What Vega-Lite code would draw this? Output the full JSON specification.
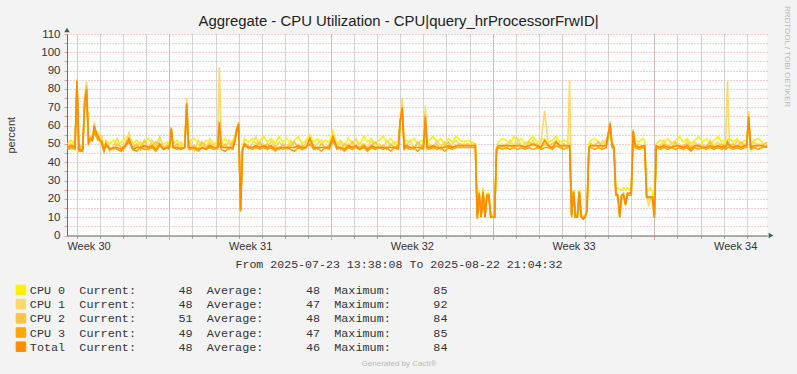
{
  "$schema": "https://vega.github.io/schema/vega-lite/v6.json",
  "width": 700,
  "height": 201.5,
  "autosize": {"type": "none"},
  "padding": {"left": 67, "top": 34, "right": 30, "bottom": 138.5},
  "background": "#F3F3F3",
  "config": {
    "view": {"fill": "#FFFFFF", "stroke": null},
    "font": "Liberation Sans",
    "axis": {"labelFont": "Liberation Sans", "titleFont": "Liberation Sans", "titleFontWeight": "normal"}
  },
  "title": {
    "text": "Aggregate - CPU Utilization - CPU|query_hrProcessorFrwID|",
    "font": "Liberation Sans",
    "fontSize": 14.9,
    "fontWeight": "normal",
    "color": "#222222",
    "anchor": "middle",
    "frame": "group",
    "baseline": "alphabetic",
    "offset": 0,
    "dx": -18.5,
    "dy": 36
  },
  "data": {
    "values": [
      {"t":"2025-07-23T14:00Z","CPU0":50,"CPU1":48,"CPU2":49,"CPU3":47,"Total":48},
      {"t":"2025-07-23T18:00Z","CPU0":52,"CPU1":47,"CPU2":50,"CPU3":48,"Total":49},
      {"t":"2025-07-23T22:00Z","CPU0":49,"CPU1":53,"CPU2":48,"CPU3":47,"Total":48},
      {"t":"2025-07-24T00:00Z","CPU0":85,"CPU1":80,"CPU2":84,"CPU3":85,"Total":84},
      {"t":"2025-07-24T02:00Z","CPU0":47,"CPU1":48,"CPU2":47,"CPU3":46,"Total":47},
      {"t":"2025-07-24T04:00Z","CPU0":48,"CPU1":46,"CPU2":49,"CPU3":47,"Total":46},
      {"t":"2025-07-24T06:00Z","CPU0":50,"CPU1":47,"CPU2":48,"CPU3":46,"Total":47},
      {"t":"2025-07-24T08:00Z","CPU0":72,"CPU1":76,"CPU2":71,"CPU3":73,"Total":73},
      {"t":"2025-07-24T10:00Z","CPU0":79,"CPU1":84,"CPU2":82,"CPU3":78,"Total":80},
      {"t":"2025-07-24T12:00Z","CPU0":53,"CPU1":52,"CPU2":51,"CPU3":50,"Total":51},
      {"t":"2025-07-24T14:00Z","CPU0":52,"CPU1":54,"CPU2":53,"CPU3":52,"Total":53},
      {"t":"2025-07-24T16:00Z","CPU0":55,"CPU1":51,"CPU2":53,"CPU3":52,"Total":52},
      {"t":"2025-07-24T18:00Z","CPU0":58,"CPU1":62,"CPU2":59,"CPU3":57,"Total":60},
      {"t":"2025-07-24T20:00Z","CPU0":57,"CPU1":55,"CPU2":56,"CPU3":54,"Total":56},
      {"t":"2025-07-24T22:00Z","CPU0":56,"CPU1":54,"CPU2":55,"CPU3":52,"Total":54},
      {"t":"2025-07-25T00:00Z","CPU0":53,"CPU1":52,"CPU2":51,"CPU3":52,"Total":52},
      {"t":"2025-07-25T02:00Z","CPU0":51,"CPU1":55,"CPU2":49,"CPU3":50,"Total":51},
      {"t":"2025-07-25T04:00Z","CPU0":47,"CPU1":45,"CPU2":46,"CPU3":47,"Total":46},
      {"t":"2025-07-25T06:00Z","CPU0":52,"CPU1":50,"CPU2":51,"CPU3":49,"Total":50},
      {"t":"2025-07-25T10:00Z","CPU0":50,"CPU1":46,"CPU2":48,"CPU3":47,"Total":47},
      {"t":"2025-07-25T14:00Z","CPU0":52,"CPU1":49,"CPU2":47,"CPU3":48,"Total":48},
      {"t":"2025-07-25T18:00Z","CPU0":49,"CPU1":53,"CPU2":50,"CPU3":47,"Total":48},
      {"t":"2025-07-25T22:00Z","CPU0":51,"CPU1":47,"CPU2":48,"CPU3":46,"Total":47},
      {"t":"2025-07-26T02:00Z","CPU0":53,"CPU1":50,"CPU2":49,"CPU3":48,"Total":49},
      {"t":"2025-07-26T06:00Z","CPU0":55,"CPU1":56,"CPU2":51,"CPU3":52,"Total":53},
      {"t":"2025-07-26T10:00Z","CPU0":50,"CPU1":47,"CPU2":48,"CPU3":47,"Total":47},
      {"t":"2025-07-26T14:00Z","CPU0":52,"CPU1":49,"CPU2":50,"CPU3":46,"Total":48},
      {"t":"2025-07-26T18:00Z","CPU0":49,"CPU1":51,"CPU2":47,"CPU3":48,"Total":48},
      {"t":"2025-07-26T22:00Z","CPU0":51,"CPU1":48,"CPU2":52,"CPU3":47,"Total":49},
      {"t":"2025-07-27T02:00Z","CPU0":53,"CPU1":47,"CPU2":48,"CPU3":47,"Total":48},
      {"t":"2025-07-27T06:00Z","CPU0":50,"CPU1":52,"CPU2":49,"CPU3":48,"Total":49},
      {"t":"2025-07-27T10:00Z","CPU0":48,"CPU1":49,"CPU2":51,"CPU3":46,"Total":47},
      {"t":"2025-07-27T14:00Z","CPU0":52,"CPU1":54,"CPU2":50,"CPU3":49,"Total":50},
      {"t":"2025-07-27T18:00Z","CPU0":50,"CPU1":48,"CPU2":47,"CPU3":47,"Total":47},
      {"t":"2025-07-27T22:00Z","CPU0":51,"CPU1":50,"CPU2":49,"CPU3":48,"Total":48},
      {"t":"2025-07-28T00:00Z","CPU0":50,"CPU1":49,"CPU2":48,"CPU3":47,"Total":48},
      {"t":"2025-07-28T02:00Z","CPU0":56,"CPU1":58,"CPU2":57,"CPU3":59,"Total":58},
      {"t":"2025-07-28T04:00Z","CPU0":50,"CPU1":49,"CPU2":48,"CPU3":48,"Total":48},
      {"t":"2025-07-28T08:00Z","CPU0":52,"CPU1":48,"CPU2":50,"CPU3":47,"Total":48},
      {"t":"2025-07-28T12:00Z","CPU0":49,"CPU1":51,"CPU2":47,"CPU3":48,"Total":47},
      {"t":"2025-07-28T16:00Z","CPU0":50,"CPU1":49,"CPU2":48,"CPU3":48,"Total":48},
      {"t":"2025-07-28T18:00Z","CPU0":70,"CPU1":75,"CPU2":71,"CPU3":72,"Total":72},
      {"t":"2025-07-28T20:00Z","CPU0":49,"CPU1":48,"CPU2":47,"CPU3":48,"Total":48},
      {"t":"2025-07-28T22:00Z","CPU0":52,"CPU1":50,"CPU2":48,"CPU3":47,"Total":48},
      {"t":"2025-07-29T02:00Z","CPU0":53,"CPU1":46,"CPU2":49,"CPU3":48,"Total":48},
      {"t":"2025-07-29T06:00Z","CPU0":50,"CPU1":52,"CPU2":47,"CPU3":46,"Total":47},
      {"t":"2025-07-29T10:00Z","CPU0":48,"CPU1":49,"CPU2":51,"CPU3":48,"Total":48},
      {"t":"2025-07-29T14:00Z","CPU0":52,"CPU1":47,"CPU2":48,"CPU3":47,"Total":47},
      {"t":"2025-07-29T18:00Z","CPU0":51,"CPU1":53,"CPU2":50,"CPU3":48,"Total":49},
      {"t":"2025-07-29T22:00Z","CPU0":49,"CPU1":50,"CPU2":48,"CPU3":47,"Total":48},
      {"t":"2025-07-30T02:00Z","CPU0":52,"CPU1":49,"CPU2":47,"CPU3":48,"Total":48},
      {"t":"2025-07-30T04:00Z","CPU0":55,"CPU1":92,"CPU2":56,"CPU3":50,"Total":62},
      {"t":"2025-07-30T06:00Z","CPU0":50,"CPU1":51,"CPU2":48,"CPU3":47,"Total":48},
      {"t":"2025-07-30T10:00Z","CPU0":53,"CPU1":48,"CPU2":50,"CPU3":46,"Total":48},
      {"t":"2025-07-30T14:00Z","CPU0":50,"CPU1":52,"CPU2":47,"CPU3":48,"Total":48},
      {"t":"2025-07-30T18:00Z","CPU0":52,"CPU1":49,"CPU2":51,"CPU3":47,"Total":48},
      {"t":"2025-07-30T20:00Z","CPU0":54,"CPU1":53,"CPU2":52,"CPU3":51,"Total":52},
      {"t":"2025-07-30T22:00Z","CPU0":57,"CPU1":59,"CPU2":58,"CPU3":56,"Total":58},
      {"t":"2025-07-31T00:00Z","CPU0":61,"CPU1":60,"CPU2":62,"CPU3":60,"Total":61},
      {"t":"2025-07-31T02:00Z","CPU0":15,"CPU1":16,"CPU2":14,"CPU3":13,"Total":14},
      {"t":"2025-07-31T04:00Z","CPU0":48,"CPU1":46,"CPU2":47,"CPU3":47,"Total":47},
      {"t":"2025-07-31T06:00Z","CPU0":53,"CPU1":51,"CPU2":50,"CPU3":49,"Total":50},
      {"t":"2025-07-31T10:00Z","CPU0":51,"CPU1":47,"CPU2":49,"CPU3":48,"Total":48},
      {"t":"2025-07-31T14:00Z","CPU0":53,"CPU1":50,"CPU2":48,"CPU3":47,"Total":48},
      {"t":"2025-07-31T18:00Z","CPU0":50,"CPU1":54,"CPU2":49,"CPU3":48,"Total":49},
      {"t":"2025-07-31T22:00Z","CPU0":52,"CPU1":48,"CPU2":51,"CPU3":47,"Total":48},
      {"t":"2025-08-01T02:00Z","CPU0":54,"CPU1":50,"CPU2":48,"CPU3":48,"Total":49},
      {"t":"2025-08-01T06:00Z","CPU0":51,"CPU1":47,"CPU2":50,"CPU3":47,"Total":48},
      {"t":"2025-08-01T10:00Z","CPU0":53,"CPU1":52,"CPU2":48,"CPU3":48,"Total":49},
      {"t":"2025-08-01T14:00Z","CPU0":50,"CPU1":48,"CPU2":49,"CPU3":46,"Total":47},
      {"t":"2025-08-01T18:00Z","CPU0":54,"CPU1":51,"CPU2":47,"CPU3":48,"Total":48},
      {"t":"2025-08-01T22:00Z","CPU0":51,"CPU1":49,"CPU2":50,"CPU3":47,"Total":48},
      {"t":"2025-08-02T02:00Z","CPU0":53,"CPU1":47,"CPU2":48,"CPU3":48,"Total":48},
      {"t":"2025-08-02T06:00Z","CPU0":50,"CPU1":52,"CPU2":49,"CPU3":47,"Total":48},
      {"t":"2025-08-02T10:00Z","CPU0":52,"CPU1":48,"CPU2":51,"CPU3":46,"Total":48},
      {"t":"2025-08-02T14:00Z","CPU0":54,"CPU1":50,"CPU2":48,"CPU3":48,"Total":49},
      {"t":"2025-08-02T18:00Z","CPU0":50,"CPU1":47,"CPU2":49,"CPU3":47,"Total":48},
      {"t":"2025-08-02T22:00Z","CPU0":52,"CPU1":51,"CPU2":48,"CPU3":48,"Total":48},
      {"t":"2025-08-03T02:00Z","CPU0":55,"CPU1":54,"CPU2":52,"CPU3":50,"Total":53},
      {"t":"2025-08-03T06:00Z","CPU0":51,"CPU1":48,"CPU2":49,"CPU3":47,"Total":48},
      {"t":"2025-08-03T10:00Z","CPU0":53,"CPU1":50,"CPU2":47,"CPU3":48,"Total":48},
      {"t":"2025-08-03T14:00Z","CPU0":50,"CPU1":52,"CPU2":50,"CPU3":46,"Total":48},
      {"t":"2025-08-03T18:00Z","CPU0":52,"CPU1":47,"CPU2":48,"CPU3":48,"Total":48},
      {"t":"2025-08-03T22:00Z","CPU0":51,"CPU1":50,"CPU2":49,"CPU3":47,"Total":48},
      {"t":"2025-08-04T02:00Z","CPU0":57,"CPU1":55,"CPU2":54,"CPU3":52,"Total":54},
      {"t":"2025-08-04T06:00Z","CPU0":50,"CPU1":48,"CPU2":49,"CPU3":47,"Total":48},
      {"t":"2025-08-04T10:00Z","CPU0":52,"CPU1":51,"CPU2":47,"CPU3":48,"Total":48},
      {"t":"2025-08-04T14:00Z","CPU0":49,"CPU1":47,"CPU2":50,"CPU3":46,"Total":47},
      {"t":"2025-08-04T18:00Z","CPU0":53,"CPU1":50,"CPU2":48,"CPU3":48,"Total":49},
      {"t":"2025-08-04T22:00Z","CPU0":51,"CPU1":48,"CPU2":51,"CPU3":47,"Total":48},
      {"t":"2025-08-05T02:00Z","CPU0":52,"CPU1":53,"CPU2":49,"CPU3":48,"Total":49},
      {"t":"2025-08-05T06:00Z","CPU0":50,"CPU1":47,"CPU2":48,"CPU3":47,"Total":47},
      {"t":"2025-08-05T10:00Z","CPU0":54,"CPU1":50,"CPU2":50,"CPU3":48,"Total":49},
      {"t":"2025-08-05T14:00Z","CPU0":51,"CPU1":48,"CPU2":47,"CPU3":46,"Total":47},
      {"t":"2025-08-05T18:00Z","CPU0":53,"CPU1":52,"CPU2":49,"CPU3":48,"Total":49},
      {"t":"2025-08-05T22:00Z","CPU0":50,"CPU1":47,"CPU2":51,"CPU3":47,"Total":48},
      {"t":"2025-08-06T02:00Z","CPU0":52,"CPU1":50,"CPU2":48,"CPU3":48,"Total":48},
      {"t":"2025-08-06T06:00Z","CPU0":54,"CPU1":48,"CPU2":49,"CPU3":47,"Total":48},
      {"t":"2025-08-06T10:00Z","CPU0":51,"CPU1":52,"CPU2":47,"CPU3":48,"Total":48},
      {"t":"2025-08-06T14:00Z","CPU0":53,"CPU1":49,"CPU2":50,"CPU3":46,"Total":48},
      {"t":"2025-08-06T18:00Z","CPU0":50,"CPU1":51,"CPU2":48,"CPU3":48,"Total":48},
      {"t":"2025-08-06T22:00Z","CPU0":52,"CPU1":48,"CPU2":49,"CPU3":47,"Total":48},
      {"t":"2025-08-07T00:00Z","CPU0":63,"CPU1":65,"CPU2":62,"CPU3":63,"Total":63},
      {"t":"2025-08-07T02:00Z","CPU0":69,"CPU1":75,"CPU2":70,"CPU3":67,"Total":70},
      {"t":"2025-08-07T04:00Z","CPU0":50,"CPU1":48,"CPU2":48,"CPU3":47,"Total":48},
      {"t":"2025-08-07T06:00Z","CPU0":52,"CPU1":49,"CPU2":50,"CPU3":48,"Total":49},
      {"t":"2025-08-07T10:00Z","CPU0":51,"CPU1":52,"CPU2":48,"CPU3":47,"Total":48},
      {"t":"2025-08-07T14:00Z","CPU0":53,"CPU1":48,"CPU2":47,"CPU3":48,"Total":48},
      {"t":"2025-08-07T18:00Z","CPU0":50,"CPU1":50,"CPU2":51,"CPU3":46,"Total":48},
      {"t":"2025-08-07T22:00Z","CPU0":52,"CPU1":47,"CPU2":49,"CPU3":48,"Total":48},
      {"t":"2025-08-08T00:00Z","CPU0":51,"CPU1":49,"CPU2":48,"CPU3":47,"Total":48},
      {"t":"2025-08-08T02:00Z","CPU0":64,"CPU1":71,"CPU2":66,"CPU3":62,"Total":65},
      {"t":"2025-08-08T04:00Z","CPU0":49,"CPU1":48,"CPU2":47,"CPU3":48,"Total":48},
      {"t":"2025-08-08T06:00Z","CPU0":52,"CPU1":50,"CPU2":49,"CPU3":47,"Total":48},
      {"t":"2025-08-08T10:00Z","CPU0":54,"CPU1":47,"CPU2":48,"CPU3":48,"Total":49},
      {"t":"2025-08-08T14:00Z","CPU0":51,"CPU1":52,"CPU2":50,"CPU3":47,"Total":48},
      {"t":"2025-08-08T18:00Z","CPU0":53,"CPU1":49,"CPU2":47,"CPU3":48,"Total":48},
      {"t":"2025-08-08T22:00Z","CPU0":50,"CPU1":51,"CPU2":49,"CPU3":46,"Total":48},
      {"t":"2025-08-09T02:00Z","CPU0":53,"CPU1":48,"CPU2":51,"CPU3":48,"Total":49},
      {"t":"2025-08-09T06:00Z","CPU0":51,"CPU1":50,"CPU2":48,"CPU3":47,"Total":48},
      {"t":"2025-08-09T10:00Z","CPU0":54,"CPU1":52,"CPU2":49,"CPU3":48,"Total":49},
      {"t":"2025-08-09T14:00Z","CPU0":52,"CPU1":49,"CPU2":50,"CPU3":48,"Total":49},
      {"t":"2025-08-09T18:00Z","CPU0":51,"CPU1":50,"CPU2":49,"CPU3":48,"Total":49},
      {"t":"2025-08-09T22:00Z","CPU0":52,"CPU1":49,"CPU2":50,"CPU3":48,"Total":49},
      {"t":"2025-08-10T02:00Z","CPU0":51,"CPU1":50,"CPU2":49,"CPU3":48,"Total":49},
      {"t":"2025-08-10T06:00Z","CPU0":50,"CPU1":49,"CPU2":50,"CPU3":48,"Total":49},
      {"t":"2025-08-10T08:00Z","CPU0":11,"CPU1":10,"CPU2":10,"CPU3":9,"Total":10},
      {"t":"2025-08-10T10:00Z","CPU0":25,"CPU1":22,"CPU2":23,"CPU3":22,"Total":23},
      {"t":"2025-08-10T12:00Z","CPU0":11,"CPU1":10,"CPU2":11,"CPU3":10,"Total":10},
      {"t":"2025-08-10T14:00Z","CPU0":26,"CPU1":24,"CPU2":23,"CPU3":23,"Total":24},
      {"t":"2025-08-10T16:00Z","CPU0":11,"CPU1":10,"CPU2":10,"CPU3":10,"Total":10},
      {"t":"2025-08-10T18:00Z","CPU0":23,"CPU1":22,"CPU2":21,"CPU3":22,"Total":22},
      {"t":"2025-08-10T20:00Z","CPU0":23,"CPU1":21,"CPU2":22,"CPU3":22,"Total":22},
      {"t":"2025-08-10T22:00Z","CPU0":11,"CPU1":10,"CPU2":10,"CPU3":10,"Total":10},
      {"t":"2025-08-11T00:00Z","CPU0":10,"CPU1":10,"CPU2":11,"CPU3":10,"Total":10},
      {"t":"2025-08-11T02:00Z","CPU0":10,"CPU1":10,"CPU2":10,"CPU3":10,"Total":10},
      {"t":"2025-08-11T04:00Z","CPU0":47,"CPU1":46,"CPU2":48,"CPU3":47,"Total":47},
      {"t":"2025-08-11T06:00Z","CPU0":51,"CPU1":48,"CPU2":49,"CPU3":48,"Total":49},
      {"t":"2025-08-11T10:00Z","CPU0":53,"CPU1":50,"CPU2":48,"CPU3":47,"Total":49},
      {"t":"2025-08-11T14:00Z","CPU0":52,"CPU1":47,"CPU2":50,"CPU3":48,"Total":49},
      {"t":"2025-08-11T18:00Z","CPU0":50,"CPU1":52,"CPU2":49,"CPU3":47,"Total":49},
      {"t":"2025-08-11T22:00Z","CPU0":54,"CPU1":49,"CPU2":48,"CPU3":48,"Total":49},
      {"t":"2025-08-12T02:00Z","CPU0":51,"CPU1":53,"CPU2":50,"CPU3":47,"Total":49},
      {"t":"2025-08-12T06:00Z","CPU0":53,"CPU1":48,"CPU2":49,"CPU3":48,"Total":49},
      {"t":"2025-08-12T10:00Z","CPU0":50,"CPU1":51,"CPU2":48,"CPU3":47,"Total":48},
      {"t":"2025-08-12T14:00Z","CPU0":52,"CPU1":49,"CPU2":51,"CPU3":48,"Total":49},
      {"t":"2025-08-12T18:00Z","CPU0":54,"CPU1":52,"CPU2":49,"CPU3":47,"Total":50},
      {"t":"2025-08-12T22:00Z","CPU0":51,"CPU1":48,"CPU2":50,"CPU3":48,"Total":49},
      {"t":"2025-08-13T02:00Z","CPU0":52,"CPU1":50,"CPU2":48,"CPU3":47,"Total":48},
      {"t":"2025-08-13T06:00Z","CPU0":53,"CPU1":68,"CPU2":50,"CPU3":48,"Total":52},
      {"t":"2025-08-13T10:00Z","CPU0":51,"CPU1":49,"CPU2":49,"CPU3":48,"Total":49},
      {"t":"2025-08-13T14:00Z","CPU0":52,"CPU1":47,"CPU2":50,"CPU3":47,"Total":48},
      {"t":"2025-08-13T18:00Z","CPU0":54,"CPU1":51,"CPU2":52,"CPU3":49,"Total":51},
      {"t":"2025-08-13T22:00Z","CPU0":51,"CPU1":50,"CPU2":48,"CPU3":48,"Total":49},
      {"t":"2025-08-14T02:00Z","CPU0":52,"CPU1":49,"CPU2":50,"CPU3":47,"Total":49},
      {"t":"2025-08-14T06:00Z","CPU0":51,"CPU1":50,"CPU2":48,"CPU3":48,"Total":49},
      {"t":"2025-08-14T08:00Z","CPU0":50,"CPU1":85,"CPU2":49,"CPU3":48,"Total":49},
      {"t":"2025-08-14T10:00Z","CPU0":12,"CPU1":11,"CPU2":11,"CPU3":10,"Total":11},
      {"t":"2025-08-14T12:00Z","CPU0":25,"CPU1":23,"CPU2":24,"CPU3":24,"Total":24},
      {"t":"2025-08-14T14:00Z","CPU0":11,"CPU1":10,"CPU2":10,"CPU3":10,"Total":10},
      {"t":"2025-08-14T16:00Z","CPU0":11,"CPU1":10,"CPU2":11,"CPU3":10,"Total":10},
      {"t":"2025-08-14T18:00Z","CPU0":25,"CPU1":24,"CPU2":23,"CPU3":24,"Total":24},
      {"t":"2025-08-14T20:00Z","CPU0":11,"CPU1":10,"CPU2":10,"CPU3":10,"Total":10},
      {"t":"2025-08-14T22:00Z","CPU0":10,"CPU1":9,"CPU2":10,"CPU3":9,"Total":9},
      {"t":"2025-08-15T00:00Z","CPU0":11,"CPU1":10,"CPU2":10,"CPU3":10,"Total":10},
      {"t":"2025-08-15T02:00Z","CPU0":15,"CPU1":14,"CPU2":14,"CPU3":13,"Total":14},
      {"t":"2025-08-15T04:00Z","CPU0":50,"CPU1":47,"CPU2":48,"CPU3":48,"Total":48},
      {"t":"2025-08-15T06:00Z","CPU0":52,"CPU1":49,"CPU2":50,"CPU3":48,"Total":49},
      {"t":"2025-08-15T10:00Z","CPU0":53,"CPU1":50,"CPU2":49,"CPU3":47,"Total":49},
      {"t":"2025-08-15T14:00Z","CPU0":51,"CPU1":48,"CPU2":51,"CPU3":48,"Total":49},
      {"t":"2025-08-15T18:00Z","CPU0":50,"CPU1":52,"CPU2":48,"CPU3":47,"Total":49},
      {"t":"2025-08-15T22:00Z","CPU0":52,"CPU1":49,"CPU2":50,"CPU3":48,"Total":49},
      {"t":"2025-08-16T00:00Z","CPU0":55,"CPU1":53,"CPU2":56,"CPU3":54,"Total":55},
      {"t":"2025-08-16T02:00Z","CPU0":58,"CPU1":60,"CPU2":62,"CPU3":61,"Total":61},
      {"t":"2025-08-16T04:00Z","CPU0":51,"CPU1":50,"CPU2":49,"CPU3":48,"Total":50},
      {"t":"2025-08-16T06:00Z","CPU0":49,"CPU1":48,"CPU2":48,"CPU3":47,"Total":48},
      {"t":"2025-08-16T08:00Z","CPU0":25,"CPU1":23,"CPU2":22,"CPU3":22,"Total":23},
      {"t":"2025-08-16T10:00Z","CPU0":26,"CPU1":22,"CPU2":21,"CPU3":22,"Total":22},
      {"t":"2025-08-16T12:00Z","CPU0":25,"CPU1":12,"CPU2":11,"CPU3":10,"Total":10},
      {"t":"2025-08-16T14:00Z","CPU0":25,"CPU1":21,"CPU2":22,"CPU3":22,"Total":22},
      {"t":"2025-08-16T16:00Z","CPU0":26,"CPU1":20,"CPU2":22,"CPU3":23,"Total":22},
      {"t":"2025-08-16T18:00Z","CPU0":25,"CPU1":16,"CPU2":18,"CPU3":17,"Total":17},
      {"t":"2025-08-16T20:00Z","CPU0":26,"CPU1":22,"CPU2":23,"CPU3":22,"Total":23},
      {"t":"2025-08-16T22:00Z","CPU0":25,"CPU1":23,"CPU2":23,"CPU3":22,"Total":23},
      {"t":"2025-08-17T00:00Z","CPU0":26,"CPU1":24,"CPU2":23,"CPU3":22,"Total":23},
      {"t":"2025-08-17T02:00Z","CPU0":55,"CPU1":56,"CPU2":58,"CPU3":57,"Total":57},
      {"t":"2025-08-17T04:00Z","CPU0":52,"CPU1":49,"CPU2":50,"CPU3":48,"Total":49},
      {"t":"2025-08-17T08:00Z","CPU0":51,"CPU1":50,"CPU2":48,"CPU3":47,"Total":48},
      {"t":"2025-08-17T12:00Z","CPU0":53,"CPU1":48,"CPU2":49,"CPU3":48,"Total":49},
      {"t":"2025-08-17T14:00Z","CPU0":52,"CPU1":50,"CPU2":49,"CPU3":47,"Total":49},
      {"t":"2025-08-17T16:00Z","CPU0":25,"CPU1":22,"CPU2":21,"CPU3":21,"Total":21},
      {"t":"2025-08-17T18:00Z","CPU0":25,"CPU1":16,"CPU2":20,"CPU3":21,"Total":21},
      {"t":"2025-08-17T20:00Z","CPU0":26,"CPU1":20,"CPU2":21,"CPU3":21,"Total":21},
      {"t":"2025-08-17T22:00Z","CPU0":24,"CPU1":21,"CPU2":20,"CPU3":21,"Total":21},
      {"t":"2025-08-18T00:00Z","CPU0":12,"CPU1":11,"CPU2":10,"CPU3":10,"Total":10},
      {"t":"2025-08-18T02:00Z","CPU0":50,"CPU1":48,"CPU2":49,"CPU3":48,"Total":49},
      {"t":"2025-08-18T06:00Z","CPU0":52,"CPU1":49,"CPU2":48,"CPU3":47,"Total":48},
      {"t":"2025-08-18T10:00Z","CPU0":51,"CPU1":52,"CPU2":50,"CPU3":48,"Total":49},
      {"t":"2025-08-18T14:00Z","CPU0":53,"CPU1":48,"CPU2":49,"CPU3":47,"Total":48},
      {"t":"2025-08-18T18:00Z","CPU0":50,"CPU1":51,"CPU2":48,"CPU3":48,"Total":48},
      {"t":"2025-08-18T22:00Z","CPU0":52,"CPU1":49,"CPU2":51,"CPU3":47,"Total":49},
      {"t":"2025-08-19T02:00Z","CPU0":54,"CPU1":50,"CPU2":48,"CPU3":48,"Total":49},
      {"t":"2025-08-19T06:00Z","CPU0":51,"CPU1":47,"CPU2":49,"CPU3":47,"Total":48},
      {"t":"2025-08-19T10:00Z","CPU0":53,"CPU1":52,"CPU2":50,"CPU3":48,"Total":49},
      {"t":"2025-08-19T14:00Z","CPU0":50,"CPU1":48,"CPU2":48,"CPU3":46,"Total":47},
      {"t":"2025-08-19T18:00Z","CPU0":52,"CPU1":51,"CPU2":49,"CPU3":48,"Total":49},
      {"t":"2025-08-19T22:00Z","CPU0":54,"CPU1":48,"CPU2":50,"CPU3":47,"Total":49},
      {"t":"2025-08-20T02:00Z","CPU0":51,"CPU1":50,"CPU2":48,"CPU3":48,"Total":48},
      {"t":"2025-08-20T06:00Z","CPU0":53,"CPU1":47,"CPU2":49,"CPU3":47,"Total":48},
      {"t":"2025-08-20T10:00Z","CPU0":50,"CPU1":52,"CPU2":51,"CPU3":48,"Total":49},
      {"t":"2025-08-20T14:00Z","CPU0":52,"CPU1":49,"CPU2":48,"CPU3":47,"Total":48},
      {"t":"2025-08-20T18:00Z","CPU0":54,"CPU1":51,"CPU2":49,"CPU3":48,"Total":49},
      {"t":"2025-08-20T22:00Z","CPU0":51,"CPU1":48,"CPU2":50,"CPU3":47,"Total":48},
      {"t":"2025-08-21T00:00Z","CPU0":52,"CPU1":50,"CPU2":49,"CPU3":48,"Total":49},
      {"t":"2025-08-21T02:00Z","CPU0":51,"CPU1":49,"CPU2":48,"CPU3":47,"Total":48},
      {"t":"2025-08-21T04:00Z","CPU0":52,"CPU1":84,"CPU2":50,"CPU3":48,"Total":51},
      {"t":"2025-08-21T06:00Z","CPU0":53,"CPU1":50,"CPU2":49,"CPU3":48,"Total":49},
      {"t":"2025-08-21T10:00Z","CPU0":51,"CPU1":48,"CPU2":50,"CPU3":47,"Total":48},
      {"t":"2025-08-21T14:00Z","CPU0":53,"CPU1":52,"CPU2":48,"CPU3":48,"Total":49},
      {"t":"2025-08-21T18:00Z","CPU0":50,"CPU1":49,"CPU2":51,"CPU3":47,"Total":48},
      {"t":"2025-08-21T22:00Z","CPU0":52,"CPU1":50,"CPU2":49,"CPU3":48,"Total":49},
      {"t":"2025-08-22T00:00Z","CPU0":51,"CPU1":49,"CPU2":50,"CPU3":48,"Total":49},
      {"t":"2025-08-22T02:00Z","CPU0":64,"CPU1":68,"CPU2":66,"CPU3":63,"Total":65},
      {"t":"2025-08-22T04:00Z","CPU0":50,"CPU1":48,"CPU2":49,"CPU3":47,"Total":48},
      {"t":"2025-08-22T08:00Z","CPU0":52,"CPU1":51,"CPU2":48,"CPU3":48,"Total":49},
      {"t":"2025-08-22T12:00Z","CPU0":53,"CPU1":49,"CPU2":50,"CPU3":47,"Total":49},
      {"t":"2025-08-22T16:00Z","CPU0":51,"CPU1":50,"CPU2":49,"CPU3":48,"Total":49},
      {"t":"2025-08-22T21:00Z","CPU0":48,"CPU1":48,"CPU2":51,"CPU3":49,"Total":48}
    ]
  },
  "transform": [{"fold": ["CPU0", "CPU1", "CPU2", "CPU3", "Total"], "as": ["s", "v"]}],
  "layer": [
    {
      "transform": [{"filter": "false"}],
      "mark": {"type": "line"},
      "encoding": {
        "x": {
          "field": "t", "type": "temporal",
          "scale": {"type": "utc", "domain": [{"year": 2025, "month": 7, "date": 23, "hours": 13, "minutes": 38, "seconds": 8, "utc": true}, {"year": 2025, "month": 8, "date": 22, "hours": 21, "minutes": 4, "seconds": 32, "utc": true}]},
          "axis": {"orient": "bottom",
            "values": [
              {"year": 2025, "month": 7, "date": 24, "utc": true}, {"year": 2025, "month": 7, "date": 25, "utc": true}, {"year": 2025, "month": 7, "date": 26, "utc": true}, {"year": 2025, "month": 7, "date": 27, "utc": true}, {"year": 2025, "month": 7, "date": 28, "utc": true}, {"year": 2025, "month": 7, "date": 29, "utc": true}, {"year": 2025, "month": 7, "date": 30, "utc": true}, {"year": 2025, "month": 7, "date": 31, "utc": true},
              {"year": 2025, "month": 8, "date": 1, "utc": true}, {"year": 2025, "month": 8, "date": 2, "utc": true}, {"year": 2025, "month": 8, "date": 3, "utc": true}, {"year": 2025, "month": 8, "date": 4, "utc": true}, {"year": 2025, "month": 8, "date": 5, "utc": true}, {"year": 2025, "month": 8, "date": 6, "utc": true}, {"year": 2025, "month": 8, "date": 7, "utc": true}, {"year": 2025, "month": 8, "date": 8, "utc": true}, {"year": 2025, "month": 8, "date": 9, "utc": true}, {"year": 2025, "month": 8, "date": 10, "utc": true}, {"year": 2025, "month": 8, "date": 11, "utc": true}, {"year": 2025, "month": 8, "date": 12, "utc": true}, {"year": 2025, "month": 8, "date": 13, "utc": true}, {"year": 2025, "month": 8, "date": 14, "utc": true}, {"year": 2025, "month": 8, "date": 15, "utc": true}, {"year": 2025, "month": 8, "date": 16, "utc": true}, {"year": 2025, "month": 8, "date": 17, "utc": true}, {"year": 2025, "month": 8, "date": 18, "utc": true}, {"year": 2025, "month": 8, "date": 19, "utc": true}, {"year": 2025, "month": 8, "date": 20, "utc": true}, {"year": 2025, "month": 8, "date": 21, "utc": true}, {"year": 2025, "month": 8, "date": 22, "utc": true}
            ],
            "grid": true, "gridColor": "#A8A8A8", "gridDash": [1, 1], "gridWidth": 1, "labels": false, "ticks": true, "tickSize": 3, "tickColor": "#AAAAAA", "domain": true, "domainColor": "#5E7570", "domainWidth": 1, "title": null}
        },
        "y": {
          "field": "v", "type": "quantitative",
          "scale": {"domain": [0, 110], "nice": false, "zero": true},
          "axis": {"orient": "left", "values": [0, 5, 10, 15, 20, 25, 30, 35, 40, 45, 50, 55, 60, 65, 70, 75, 80, 85, 90, 95, 100, 105, 110], "grid": true, "gridColor": "#E0A0A0", "gridDash": [1, 2], "gridWidth": 1, "labels": false, "ticks": true, "tickSize": 3, "tickColor": "#D9A0A0", "domain": false, "title": null}
        }
      }
    },
    {
      "transform": [{"filter": "false"}],
      "mark": {"type": "line"},
      "encoding": {
        "x": {
          "field": "t", "type": "temporal",
          "scale": {"type": "utc", "domain": [{"year": 2025, "month": 7, "date": 23, "hours": 13, "minutes": 38, "seconds": 8, "utc": true}, {"year": 2025, "month": 8, "date": 22, "hours": 21, "minutes": 4, "seconds": 32, "utc": true}]},
          "axis": {"orient": "bottom", "values": [{"year": 2025, "month": 7, "date": 28, "utc": true}, {"year": 2025, "month": 8, "date": 4, "utc": true}, {"year": 2025, "month": 8, "date": 11, "utc": true}, {"year": 2025, "month": 8, "date": 18, "utc": true}], "grid": true, "gridColor": "#E0A0A0", "gridDash": [1, 1], "gridWidth": 1, "labels": false, "ticks": true, "tickSize": 4, "tickColor": "#D9A0A0", "domain": false,
            "title": "Generated by Cacti®", "titleFont": "Liberation Sans", "titleFontSize": 8, "titleColor": "#B8B8B8", "titleX": 331.5, "titleY": 127.5, "titleAlign": "center", "titleBaseline": "middle", "titleAngle": 0}
        },
        "y": {
          "field": "v", "type": "quantitative",
          "scale": {"domain": [0, 110], "nice": false, "zero": true},
          "axis": {"orient": "right", "grid": false, "labels": false, "ticks": false, "domain": false,
            "title": "RRDTOOL / TOBI OETIKER", "titleFont": "Liberation Sans", "titleFontSize": 8, "titleColor": "#B8B8B8", "titleAngle": 90, "titleX": 19.7, "titleY": 22, "titleAlign": "center", "titleBaseline": "middle"}
        }
      }
    },
    {
      "mark": {"type": "line", "interpolate": "linear", "strokeWidth": 1.6, "strokeJoin": "miter"},
      "encoding": {
        "x": {
          "field": "t", "type": "temporal",
          "scale": {"type": "utc", "domain": [{"year": 2025, "month": 7, "date": 23, "hours": 13, "minutes": 38, "seconds": 8, "utc": true}, {"year": 2025, "month": 8, "date": 22, "hours": 21, "minutes": 4, "seconds": 32, "utc": true}]},
          "axis": {"orient": "bottom", "values": [{"year": 2025, "month": 7, "date": 24, "hours": 12, "utc": true}, {"year": 2025, "month": 7, "date": 31, "hours": 12, "utc": true}, {"year": 2025, "month": 8, "date": 7, "hours": 12, "utc": true}, {"year": 2025, "month": 8, "date": 14, "hours": 12, "utc": true}, {"year": 2025, "month": 8, "date": 21, "hours": 12, "utc": true}],
            "format": "Week %V", "grid": false, "ticks": false, "tickSize": 0, "domain": false, "labelFlush": false, "labelOverlap": false, "labelFontSize": 11, "labelColor": "#333333", "labelBaseline": "alphabetic", "labelPadding": 13.5,
            "title": "From 2025-07-23 13:38:08 To 2025-08-22 21:04:32", "titleFont": "Liberation Mono", "titleFontSize": 11.6, "titleColor": "#333333", "titleX": 331.5, "titleY": 31.5, "titleAlign": "center", "titleBaseline": "alphabetic"}
        },
        "y": {
          "field": "v", "type": "quantitative",
          "scale": {"domain": [0, 110], "nice": false, "zero": true},
          "axis": {"orient": "left", "values": [0, 10, 20, 30, 40, 50, 60, 70, 80, 90, 100, 110], "grid": false, "ticks": false, "tickSize": 0, "domain": true, "domainColor": "#5E7570", "domainWidth": 1, "labelFontSize": 11.5, "labelColor": "#333333", "labelPadding": 7, "labelFlush": false, "labelOverlap": false,
            "title": "percent", "titleFontSize": 11, "titleColor": "#333333", "titleX": -56, "titleY": 100.75, "titleAngle": -90, "titleAlign": "center", "titleBaseline": "middle"}
        },
        "color": {
          "field": "s", "type": "nominal",
          "scale": {"domain": ["CPU0", "CPU1", "CPU2", "CPU3", "Total"], "range": ["#FFF200", "#FFD966", "#FFC43D", "#FFA600", "#FF8C00"]},
          "legend": {
            "orient": "none", "legendX": -52, "legendY": 250, "direction": "vertical", "title": null, "padding": 0,
            "symbolType": "square", "symbolSize": 90, "symbolStrokeWidth": 1, "symbolStrokeColor": "#2F4640",
            "labelFont": "Liberation Mono", "labelFontSize": 11.8, "labelColor": "#333333", "labelOffset": 3, "labelLimit": 1000, "rowPadding": 0.2,
            "labelExpr": "datum.label === 'CPU0' ? 'CPU\u00a00\u00a0\u00a0Current:\u00a0\u00a0\u00a0\u00a0\u00a0\u00a048\u00a0\u00a0Average:\u00a0\u00a0\u00a0\u00a0\u00a0\u00a048\u00a0\u00a0Maximum:\u00a0\u00a0\u00a0\u00a0\u00a0\u00a085' : datum.label === 'CPU1' ? 'CPU\u00a01\u00a0\u00a0Current:\u00a0\u00a0\u00a0\u00a0\u00a0\u00a048\u00a0\u00a0Average:\u00a0\u00a0\u00a0\u00a0\u00a0\u00a047\u00a0\u00a0Maximum:\u00a0\u00a0\u00a0\u00a0\u00a0\u00a092' : datum.label === 'CPU2' ? 'CPU\u00a02\u00a0\u00a0Current:\u00a0\u00a0\u00a0\u00a0\u00a0\u00a051\u00a0\u00a0Average:\u00a0\u00a0\u00a0\u00a0\u00a0\u00a048\u00a0\u00a0Maximum:\u00a0\u00a0\u00a0\u00a0\u00a0\u00a084' : datum.label === 'CPU3' ? 'CPU\u00a03\u00a0\u00a0Current:\u00a0\u00a0\u00a0\u00a0\u00a0\u00a049\u00a0\u00a0Average:\u00a0\u00a0\u00a0\u00a0\u00a0\u00a047\u00a0\u00a0Maximum:\u00a0\u00a0\u00a0\u00a0\u00a0\u00a085' : 'Total\u00a0\u00a0Current:\u00a0\u00a0\u00a0\u00a0\u00a0\u00a048\u00a0\u00a0Average:\u00a0\u00a0\u00a0\u00a0\u00a0\u00a046\u00a0\u00a0Maximum:\u00a0\u00a0\u00a0\u00a0\u00a0\u00a084'",
            "encode": {"symbols": {"update": {"fill": {"scale": "color", "field": "value"}, "stroke": {"value": "#2F4640"}, "strokeWidth": {"value": 1}, "opacity": {"value": 1}}}}
          }
        }
      }
    },
    {
      "data": {"values": [{}]},
      "mark": {"type": "point", "shape": "triangle-right", "filled": true, "size": 30, "color": "#3E5C55", "opacity": 1, "xOffset": 4},
      "encoding": {
        "x": {"datum": {"year": 2025, "month": 8, "date": 22, "hours": 21, "minutes": 4, "seconds": 32, "utc": true}, "type": "temporal", "axis": null},
        "y": {"datum": 0, "type": "quantitative", "axis": null}
      }
    },
    {
      "data": {"values": [{}]},
      "mark": {"type": "point", "shape": "triangle-up", "filled": true, "size": 30, "color": "#3E5C55", "opacity": 1, "yOffset": -4},
      "encoding": {
        "x": {"datum": {"year": 2025, "month": 7, "date": 23, "hours": 13, "minutes": 38, "seconds": 8, "utc": true}, "type": "temporal", "axis": null},
        "y": {"datum": 110, "type": "quantitative", "axis": null}
      }
    }
  ],
  "resolve": {"axis": {"x": "independent", "y": "independent"}}
}
